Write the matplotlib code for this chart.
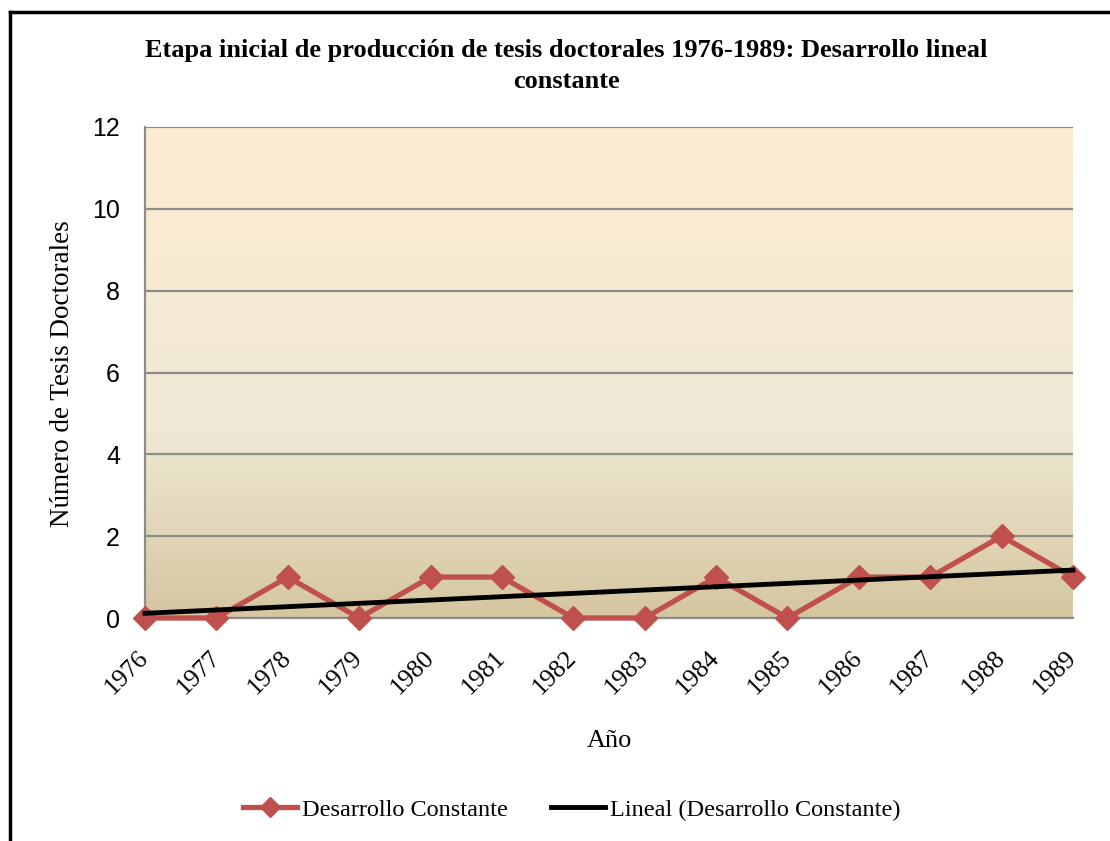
import numpy as np
import matplotlib.pyplot as plt
from matplotlib.colors import LinearSegmentedColormap
from matplotlib.lines import Line2D

years = ['1976', '1977', '1978', '1979', '1980', '1981', '1982',
         '1983', '1984', '1985', '1986', '1987', '1988', '1989']
tesis = [0, 0, 1, 0, 1, 1, 0, 0, 1, 0, 1, 1, 2, 1]

serif = 'Liberation Serif'
sans = 'Liberation Sans'

fig = plt.figure(figsize=(11.1, 8.41), dpi=100)
ax = fig.add_axes([145 / 1110, 1 - 618 / 841, 928 / 1110, 491 / 841])

x = np.arange(len(years))
y = np.array(tesis)

# fondo degradado del area de trazado
cmap = LinearSegmentedColormap.from_list('fondo', [
    (0.0, '#d5c6a0'), (0.2, '#e3d8bb'), (0.38, '#efe8d5'),
    (0.6, '#f4ead4'), (1.0, '#fdedd1')])
grad = np.linspace(0, 1, 256).reshape(-1, 1)
ax.imshow(grad, cmap=cmap, aspect='auto', origin='lower',
          extent=[0, len(years) - 1, 0, 12], zorder=0)

ax.set_xlim(0, len(years) - 1)
ax.set_ylim(0, 12)
ax.set_yticks(range(0, 13, 2))
ax.yaxis.grid(True, color='#8c8c8c', linewidth=1.6)
ax.set_axisbelow(False)
for gl in ax.get_ygridlines():
    gl.set_zorder(1)

ax.plot(x, y, color='#c0504d', linewidth=3.8, marker='D', markersize=12.5,
        clip_on=False, zorder=3)

coef = np.polyfit(x, y, 1)
ax.plot(x, np.polyval(coef, x), color='black', linewidth=3.5,
        clip_on=False, zorder=4)

for s in ['top', 'right']:
    ax.spines[s].set_visible(False)
for s in ['left', 'bottom']:
    ax.spines[s].set_color('#8c8c8c')
    ax.spines[s].set_linewidth(1.6)

ax.set_xticks(x)
ax.set_xticklabels(years, rotation=45, ha='right', va='center',
                   rotation_mode='anchor', family=serif, fontsize=18.5)
ax.tick_params(axis='x', length=0, pad=26)
ax.tick_params(axis='y', length=0, pad=18)
for lbl in ax.get_yticklabels():
    lbl.set_family(sans)
    lbl.set_fontsize(18)

fig.text(0.549, 0.119, 'Año', ha='center', va='center', family=serif, fontsize=19)
fig.text(0.056, 0.556, 'Número de Tesis Doctorales', ha='center', va='center',
         rotation=90, family=serif, fontsize=19.5)
fig.text(0.51, 0.922, 'Etapa inicial de producción de tesis doctorales 1976-1989: '
         'Desarrollo lineal\nconstante', ha='center', va='center', family=serif,
         fontsize=19, fontweight='bold', linespacing=1.45)

handles = [Line2D([], [], color='#c0504d', linewidth=3.8, marker='D', markersize=10),
           Line2D([], [], color='black', linewidth=3.5)]
fig.legend(handles, ['Desarrollo Constante', 'Lineal (Desarrollo Constante)'],
           loc='center', bbox_to_anchor=(0.515, 0.037), ncol=2, frameon=False,
           prop={'family': serif, 'size': 17.5}, handlelength=2.2,
           handletextpad=0.2, columnspacing=1.8)

# borde del grafico
fig.add_artist(Line2D([10 / 1110, 10 / 1110], [0, 1 - 12 / 841], color='black', linewidth=2.5))
fig.add_artist(Line2D([10 / 1110, 1], [1 - 12 / 841, 1 - 12 / 841], color='black', linewidth=2.5))

fig.savefig('out.png', dpi=100)
